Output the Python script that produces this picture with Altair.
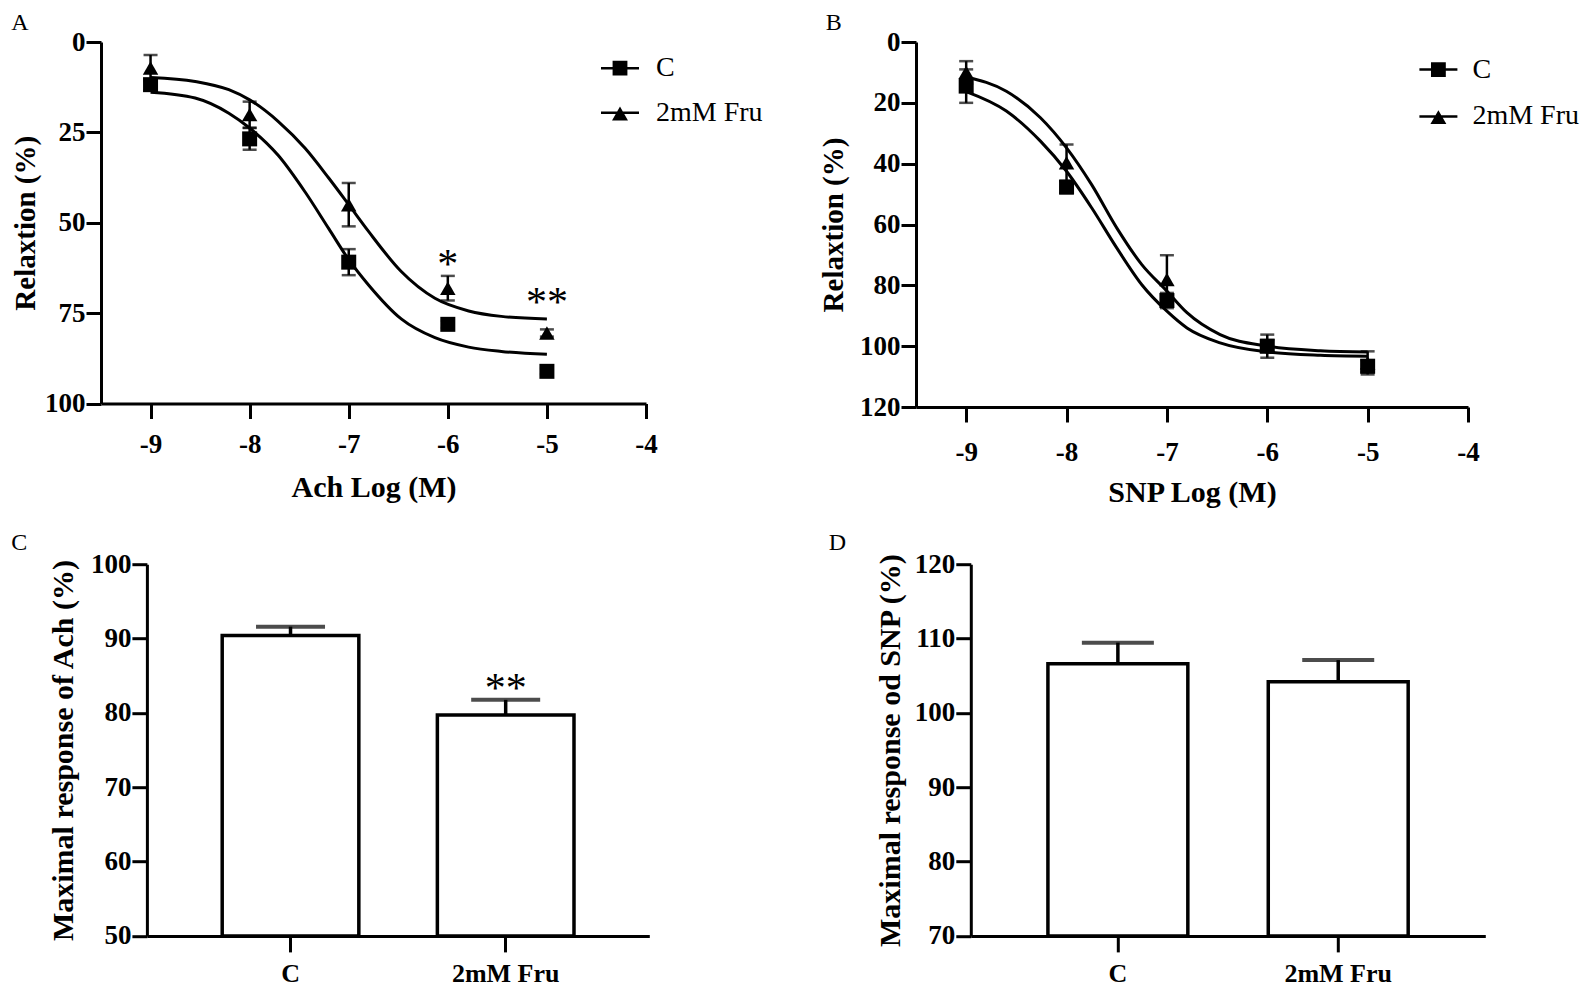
import altair as alt
import pandas as pd

FONT = "Liberation Serif"

conc = [-9, -8, -7, -6, -5]
x_ticks = [-9, -8, -7, -6, -5, -4]
series = ["C", "2mM Fru"]

# Panel A (Ach)
a_c_mean = [11.8, 26.8, 60.9, 78.1, 91.1]
a_c_sem = [1.5, 3.0, 3.6, 1.0, 0.8]
a_f_mean = [7.2, 20.1, 45.0, 68.1, 80.5]
a_f_sem = [3.6, 3.6, 6.0, 3.4, 1.0]
a_curve_x = [-9.0, -8.55, -8.21, -8.0, -7.71, -7.44, -7.2, -7.0, -6.8, -6.47, -6.13, -5.79, -5.46, -5.0]
a_c_curve = [13.9, 15.5, 19.7, 23.8, 31.4, 41.5, 51.7, 60.2, 67.2, 76.6, 81.8, 84.4, 85.6, 86.4]
a_f_curve = [9.8, 10.9, 13.2, 16.0, 22.0, 29.4, 37.7, 45.0, 52.4, 63.5, 70.9, 74.4, 75.9, 76.6]
a_y_ticks = [0, 25, 50, 75, 100]
a_star_x = [-6, -5]
a_star_y = [59.8, 70.4]
a_star_txt = ["*", "**"]

# Panel B (SNP)
b_c_mean = [14.5, 47.7, 85.0, 100.0, 106.6]
b_c_sem = [5.5, 2.0, 2.5, 2.0, 2.0]
b_f_mean = [10.0, 39.7, 78.1, 100.0, 105.5]
b_f_sem = [3.7, 6.0, 8.0, 3.8, 3.8]
b_curve_x = [-9.0, -8.6, -8.26, -8.0, -7.75, -7.5, -7.25, -7.0, -6.8, -6.47, -6.0, -5.47, -5.0]
b_c_curve = [16.3, 22.7, 32.6, 42.5, 54.5, 67.7, 79.8, 88.5, 94.0, 98.9, 101.9, 103.0, 103.3]
b_f_curve = [11.5, 16.2, 24.9, 34.8, 46.9, 61.1, 73.2, 81.9, 89.0, 96.2, 100.0, 101.5, 101.9]
b_y_ticks = [0, 20, 40, 60, 80, 100, 120]

# Panel C (max response Ach)
c_bar_mean = [90.4, 79.7]
c_bar_sem = [1.2, 2.05]
c_y_ticks = [50, 60, 70, 80, 90, 100]
c_star_group = ["2mM Fru"]
c_star_y = [84.1]
c_star_txt = ["**"]

# Panel D (max response SNP)
d_bar_mean = [106.6, 104.2]
d_bar_sem = [2.85, 2.9]
d_y_ticks = [70, 80, 90, 100, 110, 120]

# legend glyphs: horizontal line with a square / triangle (filled areas)
SQ_PATH = "M-1,-0.065H1V0.065H-1Z M-0.39,-0.39H0.39V0.39H-0.39Z"
TRI_PATH = "M-1,-0.065H1V0.065H-1Z M0,-0.33L0.42,0.4H-0.42Z"


def letter_title(letter, dx, offset):
    return alt.TitleParams(text=letter, anchor="start", frame="group", dx=dx, offset=offset,
                           font=FONT, fontSize=24, fontWeight="normal", color="black")


def dose_panel(letter, letter_dx, t_off, c_mean, c_sem, f_mean, f_sem, cx, c_curve, f_curve,
               y_domain, y_ticks, y_title, x_title, width, height, star_x, star_y, star_txt,
               leg_x, leg_y, leg_row, leg_off, ytp, xlp, xtp):
    n = len(conc)
    pts = pd.DataFrame({
        "x": conc + conc,
        "series": [series[0]] * n + [series[1]] * n,
        "mean": c_mean + f_mean,
        "sem": c_sem + f_sem,
    })
    pts["lo"] = pts["mean"] - pts["sem"]
    pts["hi"] = pts["mean"] + pts["sem"]
    caps = pd.concat([
        pts[["x", "lo"]].rename(columns={"lo": "v"}),
        pts[["x", "hi"]].rename(columns={"hi": "v"}),
    ])
    m = len(cx)
    curves = pd.DataFrame({
        "x": cx + cx,
        "series": [series[0]] * m + [series[1]] * m,
        "y": c_curve + f_curve,
    })

    xs = alt.Scale(domain=[-9.5, -4], nice=False, zero=False)
    ys = alt.Scale(domain=y_domain, reverse=True, nice=False, zero=False)
    xax = alt.Axis(values=x_ticks, labelExpr="datum.value + ''", title=x_title,
                   labelPadding=xlp, titlePadding=xtp)
    yax = alt.Axis(values=y_ticks, title=y_title, titlePadding=ytp, titleFontSize=29)

    def X(f):
        return alt.X(f"{f}:Q", scale=xs, axis=xax)

    def Y(f):
        return alt.Y(f"{f}:Q", scale=ys, axis=yax)

    lines = alt.Chart(curves).mark_line(color="black", strokeWidth=3, interpolate="monotone").encode(
        x=X("x"), y=Y("y"), detail="series:N")
    rules = alt.Chart(pts).mark_rule(color="black", strokeWidth=2.5).encode(
        x=X("x"), y=Y("lo"), y2="hi:Q")
    capm = alt.Chart(caps).mark_tick(color="black", orient="horizontal", size=14, thickness=2.5).encode(
        x=X("x"), y=Y("v"))
    squares = alt.Chart(pts).transform_filter(alt.datum.series == series[0]).mark_point(
        shape="square", filled=True, color="black", size=225, opacity=1).encode(x=X("x"), y=Y("mean"))
    tris = alt.Chart(pts).transform_filter(alt.datum.series == series[1]).mark_point(
        shape="triangle-up", filled=True, color="black", size=240, opacity=1).encode(x=X("x"), y=Y("mean"))
    layers = [lines, rules, capm, squares, tris]
    if star_x:
        stars = pd.DataFrame({"x": star_x, "y": star_y, "t": star_txt})
        layers.append(alt.Chart(stars).mark_text(font=FONT, fontSize=42, color="black",
                                                 baseline="alphabetic", dy=20).encode(
            x=X("x"), y=Y("y"), text="t:N"))
    leg = alt.Chart(pd.DataFrame({"series": series})).transform_filter("false").mark_point(
        filled=True, color="black", opacity=1).encode(
        shape=alt.Shape("series:N", scale=alt.Scale(domain=series, range=[SQ_PATH, TRI_PATH]),
                        legend=alt.Legend(orient="none", legendX=leg_x, legendY=leg_y, title=None,
                                          symbolSize=1444, symbolFillColor="black",
                                          symbolStrokeWidth=0, symbolOpacity=1,
                                          labelFont=FONT, labelFontSize=28,
                                          labelFontWeight="normal", labelColor="black",
                                          labelOffset=leg_off, rowPadding=leg_row, padding=0)))
    layers.append(leg)
    return alt.layer(*layers).properties(width=width, height=height,
                                         title=letter_title(letter, letter_dx, t_off))


def bar_panel(letter, letter_dx, t_off, means, sems, y_domain, y_ticks, y_title, width, height,
              x_start, star_group, star_y, star_txt, ytp, cap_size):
    df = pd.DataFrame({"group": series, "mean": means, "sem": sems})
    df["top"] = df["mean"] + df["sem"]
    xs = alt.Scale(domain=series, paddingInner=0.365, paddingOuter=0.35, range=[x_start, width])
    xax = alt.Axis(title=None, labelAngle=0, tickSize=16, labelPadding=8.5, labelFontSize=26)
    ys = alt.Scale(domain=y_domain, nice=False, zero=False)
    yax = alt.Axis(values=y_ticks, title=y_title, titlePadding=ytp, offset=-x_start)
    X = alt.X("group:N", scale=xs, axis=xax, sort=series)

    def Y(f):
        return alt.Y(f"{f}:Q", scale=ys, axis=yax)

    bars = alt.Chart(df).mark_bar(fill="white", stroke="black", strokeWidth=3.5).encode(
        x=X, y=Y("mean"), y2=alt.datum(y_domain[0]))
    rules = alt.Chart(df).mark_rule(color="black", strokeWidth=3.5).encode(x=X, y=Y("mean"), y2="top:Q")
    capm = alt.Chart(df).mark_tick(color="black", orient="horizontal", size=cap_size, thickness=4).encode(
        x=X, y=Y("top"))
    layers = [bars, rules, capm]
    if star_group:
        sdf = pd.DataFrame({"group": star_group, "y": star_y, "t": star_txt})
        layers.append(alt.Chart(sdf).mark_text(font=FONT, fontSize=42, color="black",
                                               baseline="alphabetic", dy=20).encode(
            x=X, y=Y("y"), text="t:N"))
    return alt.layer(*layers).properties(width=width, height=height,
                                         title=letter_title(letter, letter_dx, t_off))


A = dose_panel("A", -89.7, -7, a_c_mean, a_c_sem, a_f_mean, a_f_sem, a_curve_x, a_c_curve, a_f_curve,
               [0, 100], a_y_ticks, "Relaxtion (%)", "Ach Log (M)", 545, 361.5,
               a_star_x, a_star_y, a_star_txt, 500, 7.2, 11.6, 17, 4.2, 12.8, 15.2)
B = dose_panel("B", -90.3, -7, b_c_mean, b_c_sem, b_f_mean, b_f_sem, b_curve_x, b_c_curve, b_f_curve,
               [0, 120], b_y_ticks, "Relaxtion (%)", "SNP Log (M)", 552, 365,
               [], [], [], 503.4, 8.6, 13.8, 15, 10.8, 17.3, 11.7)
# C shares its group origin with A (x = 96.7); its axes start 45.9 px further right
C = bar_panel("C", -89.7, -5, c_bar_mean, c_bar_sem, [50, 100], c_y_ticks,
              "Maximal response of Ach (%)", 548.3, 371.7, 45.9, c_star_group, c_star_y, c_star_txt,
              11.4, 69)
D = bar_panel("D", -142, -5, d_bar_mean, d_bar_sem, [70, 120], d_y_ticks,
              "Maximal response od SNP (%)", 514.5, 371.7, 0, [], [], [], 9, 72)

row1 = alt.hconcat(A, B, spacing=56).resolve_scale(shape="independent").resolve_legend(shape="independent")
row2 = alt.hconcat(C, D, spacing=178.8)

chart = alt.concat(row1, row2, columns=1, spacing=24.2).resolve_scale(
    shape="independent").resolve_legend(shape="independent").properties(
    padding={"top": 3, "left": 3, "right": 0, "bottom": 0}).configure_view(stroke=None).configure_axis(
    domainColor="black", domainWidth=3, tickColor="black", tickWidth=3, tickSize=15,
    labelFont=FONT, labelFontSize=27, labelFontWeight="bold", labelColor="black", labelPadding=1,
    labelFlush=False, labelOverlap=False,
    titleFont=FONT, titleFontSize=30, titleFontWeight="bold", titleColor="black", grid=False,
).configure_title(font=FONT)

chart.save("out.html", embed_options={"renderer": "svg", "actions": False})
